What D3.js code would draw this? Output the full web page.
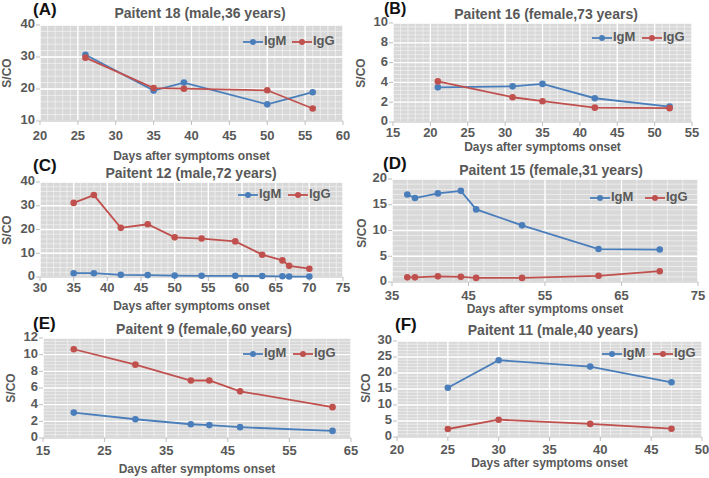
<!DOCTYPE html>
<html lang="en">
<head>
    <meta charset="UTF-8">
    <title>S/CO of IgM and IgG by patient</title>
    <script src="https://d3js.org/d3.v7.min.js"></script>
    <style>
        body {
            margin: 0;
            padding: 0;
            background: #fff;
            font-family: "Liberation Sans", Arial, sans-serif;
        }
        svg text {
            font-weight: bold;
        }
    </style>
</head>
<body>
    <svg id="chart" width="709" height="478"></svg>

    <script>
        // data (days after symptoms onset, S/CO)
        const daysA = [26, 35, 39, 50, 56];
        const igmA = [30.7, 19.5, 22.0, 15.2, 19.0];
        const iggA = [29.8, 20.3, 20.1, 19.6, 13.9];

        const daysB = [21, 31, 35, 42, 52];
        const igmB = [3.5, 3.6, 3.85, 2.4, 1.55];
        const iggB = [4.1, 2.5, 2.1, 1.45, 1.4];

        const daysC = [35, 38, 42, 46, 50, 54, 59, 63, 66, 67, 70];
        const igmC = [1.6, 1.6, 0.9, 0.8, 0.6, 0.5, 0.5, 0.4, 0.3, 0.2, 0.2];
        const iggC = [31.2, 34.5, 20.7, 22.2, 16.7, 16.2, 15.0, 9.4, 7.0, 4.7, 3.5];

        const daysD = [37, 38, 41, 44, 46, 52, 62, 70];
        const igmD = [17.0, 16.3, 17.2, 17.7, 14.1, 11.0, 6.4, 6.3];
        const iggD = [0.9, 0.9, 1.1, 1.0, 0.8, 0.8, 1.2, 2.1];

        const daysE = [20, 30, 39, 42, 47, 62];
        const igmE = [3.05, 2.25, 1.65, 1.55, 1.3, 0.85];
        const iggE = [10.65, 8.8, 6.9, 6.9, 5.6, 3.7];

        const daysF = [25, 30, 39, 47];
        const igmF = [15.4, 24.0, 22.0, 17.1];
        const iggF = [2.5, 5.4, 4.1, 2.6];

        const panelLabels = ["(A)", "(B)", "(C)", "(D)", "(E)", "(F)"];
        const titles = [
            "Paitent 18 (male,36 years)",
            "Paitent 16 (female,73 years)",
            "Paitent 12 (male,72 years)",
            "Paitent 15 (female,31 years)",
            "Paitent 9 (female,60 years)",
            "Paitent 11 (male,40 years)"
        ];
        const xDomains = [[20, 60], [15, 55], [30, 75], [35, 75], [15, 65], [20, 50]];
        const yDomains = [[10, 40], [0, 10], [0, 40], [0, 20], [0, 12], [0, 30]];
        const xSteps = [5, 5, 5, 10, 10, 5];
        const ySteps = [10, 2, 10, 5, 2, 5];
        const xMinor = [1, 1, 1, 2, 2, 1];
        const yMinor = [2, 0.4, 2, 1, 0.4, 1];
        const seriesNames = ["IgM", "IgG"];

        const blue = "#4a7ebb";
        const red = "#c0504d";
        const textGrey = "#595959";

        // layout of each panel (plot box in px, label placements)
        const panels = [
            { days: daysA, igm: igmA, igg: iggA, x0: 40, x1: 343, y0: 25, y1: 121,
              lab: [33, 11], title: [200, 14], ylab: [8, 73], tickDy: 16, xlabDy: 36, leg: [243, 42, 292] },
            { days: daysB, igm: igmB, igg: iggB, x0: 393, x1: 692, y0: 23, y1: 122,
              lab: [384, 10, 16], title: [546, 15], ylab: [362, 73], tickDy: 12, xlabDy: 26, leg: [592, 38, 642] },
            { days: daysC, igm: igmC, igg: iggC, x0: 40, x1: 343, y0: 182, y1: 277,
              lab: [33, 167], title: [191, 174], ylab: [8, 230], tickDy: 12, xlabDy: 30, leg: [238, 195, 288] },
            { days: daysD, igm: igmD, igg: iggD, x0: 392, x1: 698, y0: 179, y1: 282,
              lab: [383, 165], title: [551, 171], ylab: [363, 233], tickDy: 15, xlabDy: 28, leg: [590, 198, 645] },
            { days: daysE, igm: igmE, igg: iggE, x0: 43, x1: 351, y0: 338, y1: 438,
              lab: [33, 325], title: [204, 330], ylab: [12, 388], tickDy: 14, xlabDy: 32, leg: [243, 354, 293] },
            { days: daysF, igm: igmF, igg: iggF, x0: 397, x1: 702, y0: 341, y1: 437,
              lab: [395, 326], title: [553, 331], ylab: [367, 388], tickDy: 14, xlabDy: 27, leg: [602, 354, 653] }
        ];

        const svg = d3.select("#chart");

        panels.forEach((p, i) => {
            const g = svg.append("g");

            const x = d3.scaleLinear().domain(xDomains[i]).range([p.x0, p.x1]);
            const y = d3.scaleLinear().domain(yDomains[i]).range([p.y1, p.y0]);

            const xMajor = d3.range(xDomains[i][0], xDomains[i][1] + 0.001, xSteps[i]);
            const yMajor = d3.range(yDomains[i][0], yDomains[i][1] + 0.001, ySteps[i]);
            const xMin = d3.range(xDomains[i][0], xDomains[i][1] + 0.001, xMinor[i]);
            const yMin = d3.range(yDomains[i][0], yDomains[i][1] + 0.001, yMinor[i]);

            // plot background
            g.append("rect")
                .attr("x", p.x0).attr("y", p.y0)
                .attr("width", p.x1 - p.x0).attr("height", p.y1 - p.y0)
                .attr("fill", "#d8d8d8");

            // minor grid
            g.append("g").selectAll("line").data(xMin).enter().append("line")
                .attr("x1", d => x(d)).attr("x2", d => x(d))
                .attr("y1", p.y0).attr("y2", p.y1)
                .attr("stroke", "#f4f4f4").attr("stroke-width", 0.7);
            g.append("g").selectAll("line").data(yMin).enter().append("line")
                .attr("x1", p.x0).attr("x2", p.x1)
                .attr("y1", d => y(d)).attr("y2", d => y(d))
                .attr("stroke", "#f4f4f4").attr("stroke-width", 0.7);

            // major grid
            g.append("g").selectAll("line").data(xMajor).enter().append("line")
                .attr("x1", d => x(d)).attr("x2", d => x(d))
                .attr("y1", p.y0).attr("y2", p.y1)
                .attr("stroke", "#fff").attr("stroke-width", 1.3);
            g.append("g").selectAll("line").data(yMajor).enter().append("line")
                .attr("x1", p.x0).attr("x2", p.x1)
                .attr("y1", d => y(d)).attr("y2", d => y(d))
                .attr("stroke", "#fff").attr("stroke-width", 1.3);

            // axis baselines and small ticks
            g.append("line")
                .attr("x1", p.x0).attr("x2", p.x1).attr("y1", p.y1).attr("y2", p.y1)
                .attr("stroke", "#bfbfbf");
            g.append("g").selectAll("line").data(xMajor).enter().append("line")
                .attr("x1", d => x(d)).attr("x2", d => x(d))
                .attr("y1", p.y1).attr("y2", p.y1 + 4)
                .attr("stroke", "#bfbfbf");
            g.append("g").selectAll("line").data(yMajor).enter().append("line")
                .attr("x1", p.x0 - 4).attr("x2", p.x0)
                .attr("y1", d => y(d)).attr("y2", d => y(d))
                .attr("stroke", "#bfbfbf");

            // tick labels
            g.append("g").selectAll("text").data(xMajor).enter().append("text")
                .attr("x", d => x(d)).attr("y", p.y1 + p.tickDy)
                .attr("text-anchor", "middle").attr("dominant-baseline", "middle")
                .attr("font-size", 13).attr("fill", textGrey)
                .text(d => d);
            g.append("g").selectAll("text").data(yMajor).enter().append("text")
                .attr("x", p.x0 - 5).attr("y", d => y(d))
                .attr("text-anchor", "end").attr("dominant-baseline", "middle")
                .attr("font-size", 13).attr("fill", textGrey)
                .text(d => d);

            // axis titles
            g.append("text")
                .attr("x", (p.x0 + p.x1) / 2).attr("y", p.y1 + p.xlabDy)
                .attr("text-anchor", "middle").attr("dominant-baseline", "middle")
                .attr("font-size", 12).attr("fill", textGrey)
                .text("Days after symptoms onset");
            g.append("text")
                .attr("transform", `translate(${p.ylab[0]},${p.ylab[1]}) rotate(-90)`)
                .attr("text-anchor", "middle").attr("dominant-baseline", "middle")
                .attr("font-size", 12).attr("fill", textGrey)
                .text("S/CO");

            // title and panel letter
            g.append("text")
                .attr("x", p.title[0]).attr("y", p.title[1])
                .attr("text-anchor", "middle").attr("dominant-baseline", "middle")
                .attr("font-size", 14).attr("fill", textGrey)
                .text(titles[i]);
            g.append("text")
                .attr("x", p.lab[0]).attr("y", p.lab[1])
                .attr("dominant-baseline", "middle")
                .attr("font-size", p.lab[2] || 17).attr("fill", "#111")
                .text(panelLabels[i]);

            // series
            const series = [
                { name: seriesNames[0], vals: p.igm, color: blue },
                { name: seriesNames[1], vals: p.igg, color: red }
            ];
            const line = d3.line().x(d => x(d[0])).y(d => y(d[1]));

            series.forEach(s => {
                const pts = p.days.map((d, k) => [d, s.vals[k]]);
                g.append("path")
                    .datum(pts)
                    .attr("d", line)
                    .attr("fill", "none")
                    .attr("stroke", s.color)
                    .attr("stroke-width", 1.8);
                g.append("g").selectAll("circle").data(pts).enter().append("circle")
                    .attr("cx", d => x(d[0])).attr("cy", d => y(d[1]))
                    .attr("r", 3.3)
                    .attr("fill", s.color);
            });

            // legend
            series.forEach((s, k) => {
                const lx = k === 0 ? p.leg[0] : p.leg[2];
                const ly = p.leg[1];
                g.append("line")
                    .attr("x1", lx).attr("x2", lx + 20).attr("y1", ly).attr("y2", ly)
                    .attr("stroke", s.color).attr("stroke-width", 1.8);
                g.append("circle")
                    .attr("cx", lx + 10).attr("cy", ly).attr("r", 3)
                    .attr("fill", s.color);
                g.append("text")
                    .attr("x", lx + 21).attr("y", ly)
                    .attr("dominant-baseline", "middle")
                    .attr("font-size", 13).attr("fill", textGrey)
                    .text(s.name);
            });
        });
    </script>
</body>
</html>
